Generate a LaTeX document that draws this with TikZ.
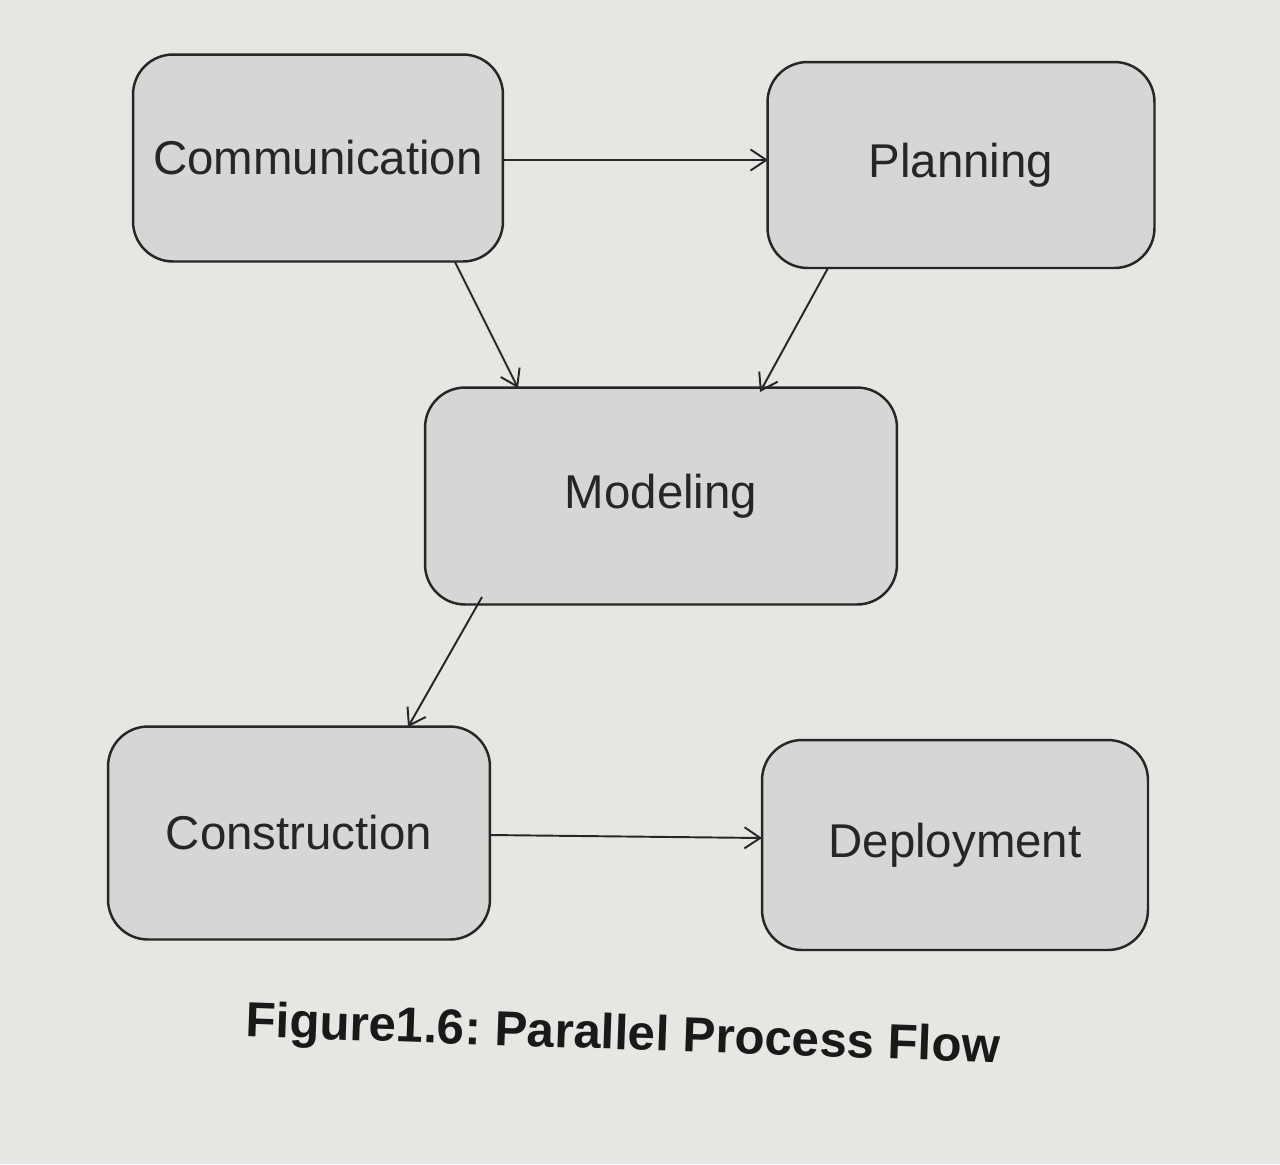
\documentclass[tikz,border=0pt]{standalone}
\usepackage{fontspec}
\setmainfont{Liberation Sans}
\usetikzlibrary{arrows.meta}
\definecolor{paper}{HTML}{E6E6E3}
\definecolor{boxfill}{HTML}{D6D6D4}
\begin{document}
\frenchspacing
\begin{tikzpicture}[x=0.02cm,y=-0.02cm,
  stage/.style={draw=black!85,line width=1.4pt,fill=boxfill,rounded corners=0.8cm,
    font=\fontsize{27}{31}\selectfont,text=black!85,inner sep=0pt},
  flow/.style={draw=black!85,line width=1.1pt,-{Straight Barb[length=9pt,width=12pt,line width=1.1pt]}}]
\fill[paper] (0,0) rectangle (1280,1164);
\useasboundingbox (0,0) rectangle (1280,1164);
\node[stage,minimum width=7.4cm,minimum height=4.14cm] (comm) at (318,158) {Communication};
\node[stage,minimum width=7.74cm,minimum height=4.12cm] (plan) at (961,165) {Planning};
\node[stage,minimum width=9.44cm,minimum height=4.34cm] (model) at (661,496) {Modeling};
\node[stage,minimum width=7.64cm,minimum height=4.26cm] (cons) at (299,833) {Construction};
\node[stage,minimum width=7.72cm,minimum height=4.2cm] (dep) at (955,845) {Deployment};
\coordinate (c1) at (503,160);
\coordinate (p1) at (768,160);
\draw[flow] (c1) -- (p1);
\coordinate (c2) at (455,262);
\coordinate (m1) at (518,388);
\draw[flow] (c2) -- (m1);
\coordinate (p2) at (828,268);
\coordinate (m2) at (760,392);
\draw[flow] (p2) -- (m2);
\coordinate (m3) at (482,597);
\coordinate (k1) at (408,727);
\draw[flow] (m3) -- (k1);
\coordinate (k2) at (490,835);
\coordinate (d1) at (762,838);
\draw[flow] (k2) -- (d1);
\node[font=\fontsize{28}{32}\selectfont\bfseries,text=black!90,rotate=-2] (cap) at (623,1037) {Figure1.6: Parallel Process Flow};
\end{tikzpicture}
\end{document}
